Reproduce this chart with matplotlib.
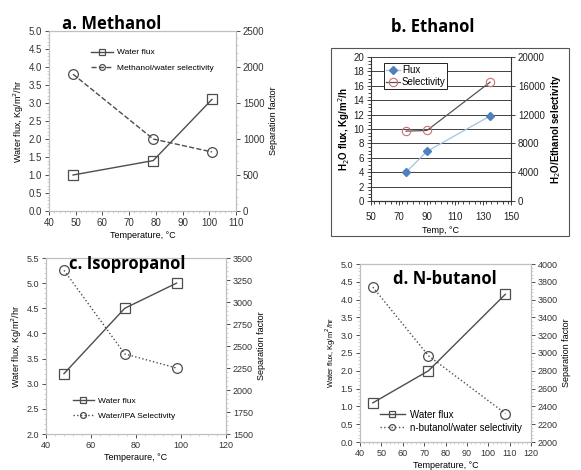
import numpy as np
import matplotlib.pyplot as plt
from matplotlib.patches import Rectangle
from matplotlib.ticker import MultipleLocator, AutoMinorLocator

plt.rcParams['font.family'] = ['Liberation Sans', 'DejaVu Sans']
plt.rcParams['font.size'] = 6.5

# a. Methanol
meth_temp = [49, 79, 101]
meth_flux = [1.0, 1.4, 3.1]
meth_sel = [1900, 1000, 820]

# b. Ethanol
eth_temp = [75, 90, 135]
eth_flux = [4.0, 6.9, 11.8]
eth_sel = [9700, 9800, 16500]
eth_xticks = [50, 70, 90, 110, 130, 150]

# c. Isopropanol
ipa_temp = [48, 75, 98]
ipa_flux = [3.2, 4.5, 5.0]
ipa_sel = [3360, 2410, 2250]

# d. N-butanol
but_temp = [46, 72, 108]
but_flux = [1.1, 2.0, 4.15]
but_sel = [3740, 2970, 2320]

W, H = 581, 470
fig = plt.figure(figsize=(W / 100, H / 100), dpi=100)


def box(x0, y0, x1, y1):
    # pixel box (top-left origin) -> figure fraction
    return [x0 / W, 1 - y1 / H, (x1 - x0) / W, (y1 - y0) / H]


line_c = '#4d4d4d'
spine_c = '#bfbfbf'


def style(ax, ax2, ticksize):
    for a in (ax, ax2):
        for s in a.spines.values():
            s.set_color(spine_c)
            s.set_linewidth(0.8)
        a.tick_params(colors='#333333', length=3, width=0.6, labelsize=ticksize, pad=2)
        a.tick_params(which='minor', length=1.5, width=0.5, colors=spine_c)
        a.yaxis.set_minor_locator(AutoMinorLocator(5))
    ax.xaxis.set_minor_locator(AutoMinorLocator(5))


def excel_panel(rect, temp, flux, sel, xlim, xstep, ylim, ystep, y2lim, y2step,
                xlabel, ylabel, labels, sel_ls, title, title_xy, leg_loc, leg_anchor,
                ylabsize=6.5, legsize=6, legspace=0.9, ticksize=6.5):
    ax = fig.add_axes(box(*rect))
    ax2 = ax.twinx()
    l1, = ax.plot(temp, flux, '-', color=line_c, lw=1.0, marker='s', ms=7,
                  mfc='none', mec=line_c, mew=0.9, label=labels[0])
    l2, = ax2.plot(temp, sel, sel_ls, color=line_c, lw=1.0, marker='o', ms=7,
                   mfc='none', mec=line_c, mew=0.9, label=labels[1])
    ax.set_xlim(*xlim)
    ax.set_ylim(*ylim)
    ax2.set_ylim(*y2lim)
    ax.xaxis.set_major_locator(MultipleLocator(xstep))
    ax.yaxis.set_major_locator(MultipleLocator(ystep))
    ax2.yaxis.set_major_locator(MultipleLocator(y2step))
    ax.set_xlabel(xlabel, fontsize=6.5, labelpad=2)
    ax.set_ylabel(ylabel, fontsize=ylabsize, labelpad=2)
    ax2.set_ylabel('Separation factor', fontsize=6.5, labelpad=3)
    style(ax, ax2, ticksize)
    ax.legend([l1, l2], labels, loc=leg_loc, bbox_to_anchor=leg_anchor,
              frameon=False, fontsize=legsize, handlelength=2.6, labelspacing=legspace,
              markerscale=0.6, borderaxespad=0.2, handletextpad=0.5)
    fig.text(title_xy[0] / W, 1 - title_xy[1] / H, title, family=['Open Sans', 'DejaVu Sans'],
             fontsize=12, fontweight='bold', ha='left', va='center')
    return ax


excel_panel((49, 31, 236, 211), meth_temp, meth_flux, meth_sel, (40, 110), 10, (0, 5), 0.5,
            (0, 2500), 500, 'Temperature, \u00b0C', 'Water flux, Kg/m$^2$/hr',
            ['Water flux', 'Methanol/water selectivity'], '--', 'a. Methanol', (62, 24),
            'upper left', (0.2, 0.93), ticksize=7)

excel_panel((46, 258, 226, 434), ipa_temp, ipa_flux, ipa_sel, (40, 120), 20, (2, 5.5), 0.5,
            (1500, 3500), 250, 'Temperaure, \u00b0C', 'Water flux, Kg/m$^2$/hr',
            ['Water flux', 'Water/IPA Selectivity'], ':', 'c. Isopropanol', (69, 264),
            'lower left', (0.12, 0.05))

excel_panel((360, 264, 531, 442), but_temp, but_flux, but_sel, (40, 120), 10, (0, 5), 0.5,
            (2000, 4000), 200, 'Temperature, \u00b0C', 'Water flux, Kg/m$^2$/hr',
            ['Water flux', 'n-butanol/water selectivity'], ':', 'd. N-butanol', (393, 279),
            'lower left', (0.08, 0.02), ylabsize=5.5, legsize=7, legspace=0.3)

# b. Ethanol (boxed panel)
fig.patches.append(Rectangle((331 / W, 1 - 236 / H), (569 - 331) / W, (236 - 48) / H,
                             transform=fig.transFigure, fill=False, ec='#555555', lw=0.8))
fig.text(433 / W, 1 - 27 / H, 'b. Ethanol', family=['Open Sans', 'DejaVu Sans'],
         fontsize=12, fontweight='bold', ha='center', va='center')

axb = fig.add_axes(box(371, 57, 511, 201))
axb2 = axb.twinx()
axb.set_xlim(50, 150)
axb.set_ylim(0, 20)
axb2.set_ylim(0, 20000)
axb.set_xticks(eth_xticks)
axb.xaxis.set_minor_locator(MultipleLocator(4))
axb.yaxis.set_major_locator(MultipleLocator(2))
axb.yaxis.set_minor_locator(MultipleLocator(0.5))
axb2.yaxis.set_major_locator(MultipleLocator(4000))
axb.grid(axis='y', color='#222222', lw=0.6)
axb.set_axisbelow(True)
lf, = axb.plot(eth_temp, eth_flux, '-', color='#9dc3e6', lw=0.9, marker='D', ms=4,
               mfc='#4f81bd', mec='#4f81bd', label='Flux')
ls_, = axb2.plot(eth_temp, eth_sel, '-', color='#555555', lw=0.9, marker='o', ms=6,
                 mfc='none', mec='#d07070', mew=0.8, label='Selectivity')
for a in (axb, axb2):
    a.spines['top'].set_visible(False)
    for s in ('left', 'bottom', 'right'):
        a.spines[s].set_color('#333333')
        a.spines[s].set_linewidth(0.8)
    a.tick_params(colors='#222222', length=3, width=0.6, labelsize=7, pad=2)
axb.tick_params(axis='x', pad=5)
axb.tick_params(which='minor', length=2, width=0.5)
axb2.spines['left'].set_visible(False)
axb.spines['right'].set_visible(False)
axb.set_xlabel('Temp, \u00b0C', fontsize=6.5, labelpad=3)
axb.set_ylabel('H$_2$O flux, Kg/m$^2$/h', fontsize=7, fontweight='bold', labelpad=1)
axb2.set_ylabel('H$_2$O/Ethanol selectivity', fontsize=7, fontweight='bold', labelpad=3)
legb = axb.legend([lf, ls_], ['Flux', 'Selectivity'], loc='upper left',
                  bbox_to_anchor=(0.06, 0.99), fontsize=7, handlelength=1.4,
                  handletextpad=0.2, borderpad=0.2, labelspacing=0.2,
                  fancybox=False, framealpha=1, edgecolor='#222222')
legb.get_frame().set_linewidth(0.7)

fig.savefig('out.png', dpi=100)
